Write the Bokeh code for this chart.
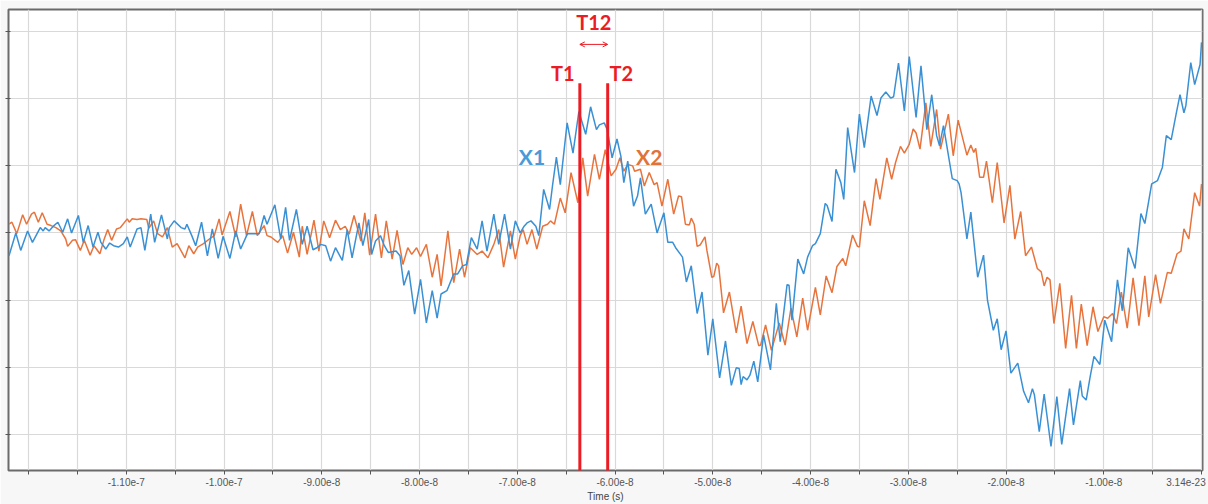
from bokeh.plotting import figure
from bokeh.models import FixedTicker, CustomJSTickFormatter, Range1d, Arrow, OpenHead
from bokeh.core.properties import value
from bokeh.embed import file_html
from bokeh.resources import INLINE

# ---- captured traces: time in ns, amplitude in arbitrary units ----
x1_time_ns = [
    -122.0, -121.3, -120.8, -120.1, -119.6, -118.8, -118.5, -118.3, -117.9, -117.4,
    -117.0, -116.5, -116.0, -115.6, -114.9, -114.4, -113.9, -113.4, -112.9, -112.6,
    -112.1, -111.7, -111.3, -110.8, -110.3, -109.9, -109.6, -108.9, -108.5, -108.1,
    -107.5, -107.1, -106.4, -105.8, -105.6, -105.1, -104.4, -104.0, -103.8, -103.3,
    -102.9, -102.3, -101.7, -101.2, -100.6, -100.1, -99.4, -98.8, -98.3, -97.6,
    -96.4, -95.9, -95.6, -94.8, -94.2, -93.7, -93.3, -92.6,
    -92.0, -91.5, -90.9, -90.5, -90.1, -89.6, -89.1, -88.6, -87.9, -87.4,
    -86.9, -86.2, -85.8, -85.2, -84.9, -84.5, -84.0, -83.6, -83.2, -82.4,
    -82.0, -81.6, -81.1, -80.5, -79.9, -79.3, -78.7, -78.2, -77.8, -77.2,
    -76.5, -76.1, -75.6, -75.2, -74.7, -74.1, -73.6, -73.1, -72.4,
    -71.9, -71.3, -70.7, -70.2, -69.7, -69.3, -69.0, -68.6, -68.1, -67.8,
    -67.3, -66.7, -66.4, -66.0, -65.6, -64.9, -64.3, -63.7, -63.0, -62.5,
    -61.9, -61.6, -61.1, -60.8, -60.3, -59.8, -59.4, -59.1, -58.7, -58.1,
    -57.7, -57.4, -56.9, -56.3, -55.7, -55.0, -54.6, -54.1, -53.8, -53.3,
    -53.1, -52.7, -52.2, -51.6, -51.1, -50.5, -50.0, -49.3, -48.7, -48.1,
    -47.6, -47.3, -47.1, -46.9, -46.5, -46.2, -45.8, -45.4, -44.8, -44.1,
    -43.5, -43.1, -42.4, -42.2, -41.9, -41.3, -40.7, -40.3, -39.8, -39.5,
    -39.0, -38.5, -38.3, -37.8, -37.4,
    -36.9, -36.6, -36.2, -35.5, -35.0, -34.5, -33.8, -33.2, -32.8, -32.3,
    -31.8, -31.5, -31.0, -30.4, -29.9, -29.2, -28.7, -28.1, -27.6, -27.1,
    -26.8, -26.4, -26.0, -25.5, -25.0, -24.8, -24.6, -24.0, -23.6, -22.9,
    -22.3, -21.9, -21.3, -20.9,
    -20.5, -20.0, -19.5, -18.8, -18.2, -17.7, -17.3, -17.1, -16.6, -16.1,
    -15.4, -14.8, -14.3, -13.5, -13.1, -12.4, -12.2, -11.8, -11.4, -11.0,
    -10.4, -9.9, -9.2, -8.6, -8.1, -7.5, -6.8, -6.2, -5.8, -5.1,
    -4.5, -4.0, -3.6, -3.1, -2.6, -2.2, -1.8, -1.6, -1.1, -0.7,
    -0.15, 0.0,
]
x1_amp = [
    -3.4, 0.0, -2.6, 0.3, -1.4, 0.8, 0.3, 0.8, 0.3, 1.1,
    1.6, 0.1, 2.1, 0.0, 2.6, -1.4, 1.1, -2.1, 0.1, -1.4,
    -2.4, -1.5, -1.9, -2.1, -1.6, -0.6, -2.1, 0.6, 0.8, -2.6,
    2.8, -1.4, 2.7, -0.9, 0.8, 1.8, 0.8, 0.6, 1.3, -0.4,
    -1.9, 1.6, -3.4, 0.6, -3.8, -0.5, -3.8, 0.3, -2.4, -0.1,
    -0.1, 2.6, 1.3, 4.2, -0.9, 3.8, -1.1, 3.5,
    -1.7, 1.0, -2.5, -2.2, -1.7, -1.9, -4.2, -2.2, -4.1, 0.5,
    -3.7, 1.5, -1.9, 2.0, -3.2, -1.2, -0.4, -1.9, -2.9, -2.7,
    -3.4, -7.8, -5.6, -12.1, -6.9, -13.4, -8.6, -12.7, -9.1, -8.6,
    -6.1, -6.1, -4.9, -4.7, -0.7, -2.4, 1.8, -2.7, 2.8,
    -1.7, 2.8, -2.4, 1.8, 0.0, 1.0, 1.5, 1.8, 1.0, -0.4,
    6.5, 3.5, 7.0, 11.3, 7.2, 16.4, 11.9, 18.1, 14.7, 18.8,
    15.4, 16.1, 16.4, 15.4, 11.2, 14.0, 11.4, 7.5, 10.7, 4.0,
    5.5, 8.2, 2.8, 4.3, 0.0, 3.0, -1.4, -1.4, -2.2, -3.2,
    -3.6, -7.3, -4.9, -12.0, -8.8, -18.2, -12.8, -21.6, -16.1, -22.7,
    -20.1, -20.2, -22.6, -21.4, -21.9, -21.2, -19.1, -22.2, -15.2, -20.4,
    -10.5, -16.2, -7.7, -7.8, -13.0, -3.9, -6.1, -3.6, -1.9, -1.6,
    -0.1, 4.4, 4.1, 1.7, 9.5,
    7.5, 5.0, 15.7, 9.0, 17.7, 12.7, 20.4, 17.5, 20.1, 21.0,
    20.1, 20.3, 25.3, 18.2, 26.3, 17.2, 24.9, 15.4, 20.6, 14.5,
    13.0, 16.0, 12.5, 8.1, 7.8, 7.3, 6.0, -0.9, 3.1, -6.6,
    -3.3, -10.0, -14.5, -12.8,
    -17.4, -14.6, -20.9, -19.4, -23.6, -25.3, -23.2, -24.1, -29.6, -24.0,
    -31.8, -24.4, -31.5, -23.2, -28.6, -22.0, -24.3, -24.9, -21.5, -18.4,
    -19.6, -13.0, -16.2, -7.0, -11.6, -2.2, -5.3, 2.9, 1.4, 7.3,
    7.8, 9.8, 14.5, 13.9, 17.7, 20.6, 17.9, 19.0, 25.4, 22.1,
    25.1, 28.4,
]

x2_time_ns = [
    -122.0, -121.7, -121.2, -120.6, -120.2, -119.7, -119.4, -119.0, -118.6, -118.1,
    -117.7, -117.2, -116.7, -116.2, -116.0, -115.5, -115.2, -114.7, -114.3, -113.7,
    -113.3, -112.7, -112.3, -111.9, -111.5, -111.0, -110.6, -109.9, -109.7, -109.4,
    -108.9, -108.5, -107.9, -107.7, -107.2, -106.8, -106.3, -105.8, -105.3, -104.8,
    -104.0, -103.6, -103.1, -102.7, -102.1, -101.5, -101.0, -100.5, -100.2, -99.4,
    -98.8, -98.3, -97.7, -97.1, -96.6, -95.9, -95.6, -95.2, -94.5, -94.0,
    -93.5, -92.9, -92.3,
    -92.0, -91.5, -90.8, -90.3, -89.8, -89.2, -88.6, -88.1, -87.6, -87.2,
    -86.7, -86.0, -85.6, -85.1, -84.5, -83.9, -83.4, -82.8, -82.3, -81.7,
    -81.2, -80.8, -80.3, -79.9, -79.3, -78.7, -78.2, -77.8, -77.1, -76.5,
    -75.9, -75.4, -74.8, -74.1, -73.6, -73.0, -72.4, -71.9,
    -71.4, -70.7, -70.2, -69.7, -69.4, -69.0, -68.5, -68.0, -67.4, -66.9,
    -66.6, -66.2, -65.6, -65.1, -64.5, -63.8, -63.3, -62.8, -62.1, -61.6,
    -61.0, -60.4, -59.9, -59.5, -59.1, -58.7, -58.2, -58.0, -57.4, -57.0,
    -56.5, -56.0, -55.7, -55.2, -54.6, -54.0, -53.5, -53.2,
    -52.8, -52.4, -52.2, -51.9, -51.6, -51.3, -50.8, -50.6, -50.1, -49.9,
    -49.6, -49.4, -48.9, -48.3, -47.6, -47.1, -46.5, -45.9, -45.3, -45.1,
    -44.6, -44.0, -43.2, -42.6, -42.0, -41.4, -40.8, -40.3, -39.5, -39.0,
    -38.4, -37.8, -37.3, -36.7, -36.4, -35.7, -35.2, -35.0, -34.5, -33.9,
    -33.3, -32.9,
    -32.2, -31.7, -31.3, -30.8, -30.4, -29.9, -29.5, -29.2, -28.8, -28.2,
    -27.7, -27.1, -26.7, -25.9, -25.4, -24.9, -24.5, -24.0, -23.6, -23.3,
    -23.1, -22.7, -22.3, -22.0, -21.4, -20.9, -20.2, -19.6, -19.1, -18.5,
    -18.0, -17.4, -16.8,
    -16.4, -16.1, -15.8, -15.5, -15.1, -14.5, -13.9, -13.3, -12.8, -12.3,
    -11.7, -11.1, -10.6, -10.0, -9.6, -9.1, -8.7, -8.2, -7.6, -7.0,
    -6.4, -5.8, -5.4, -4.7, -4.2, -3.5, -3.1, -2.5, -2.1, -1.8,
    -1.3, -0.7, -0.2, 0.0,
]
x2_amp = [
    1.3, 1.6, -0.1, 2.7, 1.3, 2.8, 3.1, 1.6, 3.0, 1.3,
    1.1, 0.8, 0.3, -0.9, -2.0, -1.1, -1.0, -2.6, -1.1, -3.3,
    -1.9, -3.1, -1.1, 0.5, -1.1, 0.6, 0.8, 2.1, 1.6, 2.1,
    2.0, 2.1, 2.0, 0.7, 1.8, -0.1, -0.6, 0.8, -2.1, -1.6,
    -3.7, -1.9, -3.1, -2.1, -1.6, -0.9, -0.4, 2.1, -0.3, 3.2,
    -0.6, 4.3, -0.4, 3.2, -0.4, 1.1, -0.4, -0.6, -1.4, -0.4,
    -3.0, 0.1, -3.6,
    1.0, -3.2, 1.9, -2.7, 1.8, -0.7, 1.9, 0.5, 1.0, -0.2,
    2.6, -1.2, 3.0, -3.3, 2.8, -3.7, 1.8, -3.9, 0.4, -4.7,
    -2.2, -3.2, -2.2, -3.5, -1.7, -6.6, -3.2, -7.9, 0.3, -7.4,
    -2.4, -6.6, -2.2, -3.2, -2.7, -3.7, -1.7, 0.5,
    -5.1, 0.3, -3.9, -0.4, 0.5, -1.7, 0.5, -2.4, 1.0, 1.3,
    1.8, 1.3, 5.2, 3.0, 9.0, 4.5, 11.2, 5.5, 11.7, 8.0,
    12.4, 8.5, 9.5, 11.2, 9.2, 10.2, 10.0, 9.2, 9.5, 7.0,
    9.0, 7.2, 7.5, 4.0, 8.0, 2.8, 5.5, 5.4,
    1.3, 1.2, 2.2, 1.3, -2.0, -1.8, -0.6, -2.6, -6.6, -6.5,
    -4.5, -4.9, -11.9, -8.8, -14.9, -10.9, -16.5, -13.2, -16.8, -16.7,
    -13.7, -17.5, -13.4, -16.7, -11.2, -15.5, -9.7, -14.5, -8.1, -12.2,
    -6.4, -8.9, -5.0, -3.8, -4.9, -0.3, -2.0, -2.1, 4.8, 1.1,
    8.1, 5.0,
    11.2, 8.0, 10.5, 12.9, 11.9, 13.2, 15.5, 14.9, 12.5, 19.4,
    12.9, 18.4, 12.5, 17.7, 11.5, 16.8, 14.5, 11.6, 13.1, 12.0,
    12.6, 8.3, 8.3, 10.7, 4.5, 10.5, 1.5, 7.1, -0.9, 3.2,
    -3.4, -2.1, -5.3,
    -5.8, -7.9, -6.6, -7.0, -13.5, -7.5, -17.2, -9.3, -17.2, -10.6,
    -16.8, -11.0, -14.7, -12.5, -12.7, -12.0, -13.5, -8.8, -14.2, -6.7,
    -13.8, -6.4, -12.5, -6.2, -10.5, -5.9, -6.0, -3.1, -2.7, 0.6,
    -0.9, 6.0, 4.0, 7.3,
]

# ---- cursors and annotation text ----
cursor_names = ["T1", "T2"]
cursor_time_ns = [-63.6, -60.75]
cursor_top = 22.3
trace_names = ["X1", "X2"]
trace_label_time_ns = [-68.5, -56.5]
trace_label_amp = [11.4, 11.4]

# ---- axis ticks (seconds) ----
time_ticks_s = [-1.10e-7, -1.00e-7, -9.00e-8, -8.00e-8, -7.00e-8, -6.00e-8,
                -5.00e-8, -4.00e-8, -3.00e-8, -2.00e-8, -1.00e-8, 3.14e-23]
time_minor_ticks_s = [-1.20e-7, -1.15e-7, -1.05e-7, -9.5e-8, -8.5e-8, -7.5e-8,
                      -6.5e-8, -5.5e-8, -4.5e-8, -3.5e-8, -2.5e-8, -1.5e-8, -5e-9]
amp_ticks = [-30, -20, -10, 0, 10, 20, 30]

BLUE = "#3a90d4"
ORANGE = "#e8743d"
RED = "#ec1c24"
NS = 1e-9

p = figure(width=1208, height=504, output_backend="svg", toolbar_location=None,
           x_range=Range1d(-122.05 * NS, 0.1 * NS), y_range=Range1d(-35.4, 33.3),
           min_border_left=8, min_border_right=6, min_border_top=9, min_border_bottom=4)
p.background_fill_color = "white"
p.border_fill_color = "#f7f7f7"
p.outline_line_color = "#6b6b6b"
p.outline_line_width = 2

# x axis
p.xaxis.ticker = FixedTicker(ticks=time_ticks_s, minor_ticks=time_minor_ticks_s)
p.xaxis.formatter = CustomJSTickFormatter(code="""
    const s = tick.toExponential(2);
    return tick > 0 ? s + '\\u00a0' : s;
""")
p.xaxis.axis_label = "Time (s)"
p.xaxis.axis_label_text_font = "Liberation Sans"
p.xaxis.axis_label_text_font_style = "normal"
p.xaxis.axis_label_text_font_size = "10px"
p.xaxis.axis_label_text_color = "#444444"
p.xaxis.axis_label_standoff = 0
p.xaxis.major_label_text_font = "Liberation Sans"
p.xaxis.major_label_text_font_size = "10px"
p.xaxis.major_label_text_color = "#555555"
p.xaxis.major_label_standoff = 2
p.xaxis.axis_line_color = None
p.xaxis.major_tick_line_color = "#555555"
p.xaxis.minor_tick_line_color = "#555555"
p.xaxis.major_tick_out = 4
p.xaxis.major_tick_in = 0
p.xaxis.minor_tick_out = 4
p.xaxis.minor_tick_in = 0

# y axis: tick marks only
p.yaxis.ticker = FixedTicker(ticks=amp_ticks, minor_ticks=[])
p.yaxis.formatter = CustomJSTickFormatter(code="return '';")
p.yaxis.major_label_standoff = 0
p.yaxis.axis_line_color = None
p.yaxis.major_tick_line_color = "#555555"
p.yaxis.major_tick_out = 3
p.yaxis.major_tick_in = 2

# grid
p.xgrid.grid_line_color = "#d9d9d9"
p.xgrid.grid_line_width = 1.2
p.xgrid.minor_grid_line_color = "#d9d9d9"
p.xgrid.minor_grid_line_width = 1.2
p.ygrid.grid_line_color = "#d9d9d9"
p.ygrid.grid_line_width = 1.2

# traces
p.line([t * NS for t in x2_time_ns], x2_amp, line_color=ORANGE, line_width=1.5)
p.line([t * NS for t in x1_time_ns], x1_amp, line_color=BLUE, line_width=1.5)

# cursors
cursor_x = [t * NS for t in cursor_time_ns]
p.segment(x0=cursor_x, y0=[cursor_top] * 2, x1=cursor_x, y1=[-40] * 2,
          line_color=RED, line_width=3)
p.text(x=[cursor_x[0] - 1.75 * NS, cursor_x[1] + 1.4 * NS],
       y=[23.9, 23.9], text=cursor_names, text_color=RED,
       text_font=value("Lato"), text_font_style="bold", text_font_size="20px",
       text_align="center", text_baseline="middle")
mid = (cursor_x[0] + cursor_x[1]) / 2
p.text(x=[mid], y=[31.4], text=["T12"], text_color=RED,
       text_font=value("Lato"), text_font_style="bold", text_font_size="20px",
       text_align="center", text_baseline="middle")
p.add_layout(Arrow(x_start=cursor_x[0], y_start=28.1, x_end=cursor_x[1], y_end=28.1,
                   line_color=RED, line_width=1,
                   start=OpenHead(size=5, line_color=RED, line_width=1),
                   end=OpenHead(size=5, line_color=RED, line_width=1)))

# trace labels
p.text(x=[t * NS for t in trace_label_time_ns], y=trace_label_amp, text=trace_names,
       text_color=["#4a9ad8", "#e0733a"], text_font=value("Lato"),
       text_font_style="bold", text_font_size="21px",
       text_align="center", text_baseline="middle")

open("out.html", "w").write(file_html(p, INLINE))
